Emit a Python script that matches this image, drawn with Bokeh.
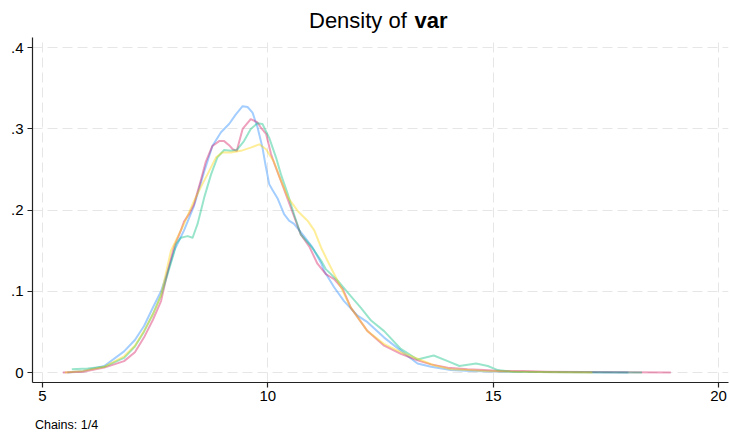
from bokeh.plotting import figure
from bokeh.layouts import column
from bokeh.models import Range1d, FixedTicker
from bokeh.core.properties import value
from bokeh.embed import file_html
from bokeh.resources import INLINE

# ---- data ----
x_ticks = [5, 10, 15, 20]
x_tick_labels = ["5", "10", "15", "20"]
y_ticks = [0, 0.1, 0.2, 0.3, 0.4]
y_tick_labels = ["0", ".1", ".2", ".3", ".4"]

chain1_x = [5.55, 5.9, 6.37, 6.81, 7.05, 7.25, 7.45, 7.63, 7.78, 7.92, 8.14, 8.36, 8.59, 8.77,
            8.96, 9.14, 9.29, 9.44, 9.55, 9.66, 9.77, 9.88, 9.95, 10.03, 10.10, 10.22, 10.36,
            10.47, 10.58, 10.77, 10.99, 11.18, 11.25, 11.47, 11.69, 11.99, 12.21, 12.58, 12.95,
            13.32, 13.62, 14.06, 14.5, 15.2, 16.0, 17.0, 18.0]
chain1_y = [0.000, 0.002, 0.008, 0.026, 0.040, 0.057, 0.080, 0.100, 0.125, 0.150, 0.175, 0.205,
            0.248, 0.279, 0.296, 0.306, 0.318, 0.328, 0.327, 0.320, 0.302, 0.277, 0.255, 0.232,
            0.225, 0.214, 0.195, 0.187, 0.183, 0.170, 0.154, 0.135, 0.125, 0.105, 0.088, 0.070,
            0.062, 0.043, 0.027, 0.011, 0.007, 0.003, 0.002, 0.001, 0.0005, 0.0002, 0.0]

chain2_x = [5.45, 5.9, 6.37, 6.81, 7.05, 7.25, 7.45, 7.63, 7.78, 7.92, 8.07, 8.14, 8.25, 8.36,
            8.51, 8.62, 8.77, 8.92, 9.03, 9.14, 9.22, 9.31, 9.44, 9.62, 9.77, 9.84, 9.96, 10.07,
            10.14, 10.29, 10.51, 10.73, 10.92, 11.10, 11.29, 11.47, 11.66, 11.84, 12.21, 12.58,
            12.95, 13.32, 13.62, 13.99, 14.43, 14.80, 15.17, 15.65, 16.2, 17.0, 18.0, 18.94]
chain2_y = [0.000, 0.001, 0.006, 0.014, 0.025, 0.043, 0.065, 0.088, 0.125, 0.155, 0.175, 0.186,
            0.195, 0.207, 0.236, 0.259, 0.279, 0.285, 0.285, 0.280, 0.275, 0.273, 0.300, 0.312,
            0.308, 0.302, 0.294, 0.269, 0.258, 0.236, 0.203, 0.170, 0.155, 0.134, 0.121, 0.115,
            0.103, 0.080, 0.051, 0.033, 0.023, 0.015, 0.010, 0.006, 0.004, 0.003, 0.002, 0.002,
            0.001, 0.0005, 0.0003, 0.0]

chain3_x = [5.65, 6.0, 6.37, 6.81, 7.05, 7.25, 7.45, 7.63, 7.78, 7.92, 7.96, 8.07, 8.22, 8.33,
            8.44, 8.59, 8.74, 8.88, 9.03, 9.18, 9.31, 9.47, 9.62, 9.77, 9.88, 10.03, 10.18, 10.29,
            10.44, 10.58, 10.73, 10.92, 11.03, 11.18, 11.29, 11.55, 11.84, 12.06, 12.29, 12.58,
            12.95, 13.32, 13.68, 13.99, 14.25, 14.62, 14.88, 15.10, 15.39, 16.0, 17.0, 18.3]
chain3_y = [0.004, 0.005, 0.007, 0.018, 0.032, 0.050, 0.072, 0.095, 0.122, 0.148, 0.158, 0.166,
            0.168, 0.166, 0.183, 0.216, 0.244, 0.265, 0.274, 0.273, 0.274, 0.285, 0.300, 0.307,
            0.306, 0.289, 0.265, 0.244, 0.220, 0.195, 0.170, 0.158, 0.150, 0.138, 0.127, 0.113,
            0.094, 0.080, 0.064, 0.051, 0.029, 0.016, 0.021, 0.014, 0.008, 0.011, 0.008, 0.003,
            0.001, 0.0005, 0.0002, 0.0]

chain4_x = [5.5, 5.9, 6.37, 6.81, 7.05, 7.25, 7.45, 7.63, 7.75, 7.85, 8.14, 8.36, 8.51, 8.66,
            8.85, 8.99, 9.18, 9.40, 9.62, 9.81, 9.96, 10.14, 10.25, 10.44, 10.66, 10.88, 11.03,
            11.18, 11.32, 11.40, 11.62, 11.84, 12.21, 12.58, 12.95, 13.32, 13.68, 14.06, 14.43,
            14.80, 15.5, 16.5, 17.2]
chain4_y = [0.000, 0.002, 0.007, 0.020, 0.033, 0.051, 0.072, 0.095, 0.125, 0.150, 0.183, 0.211,
            0.228, 0.244, 0.265, 0.271, 0.271, 0.273, 0.277, 0.281, 0.275, 0.259, 0.242, 0.216,
            0.199, 0.187, 0.175, 0.154, 0.138, 0.129, 0.105, 0.080, 0.051, 0.035, 0.025, 0.017,
            0.009, 0.004, 0.003, 0.002, 0.001, 0.0003, 0.0]

chain_colors = ["#1a85ff", "#d41159", "#00bf7f", "#ffd400"]

title_text = "Density of "
title_bold = "var"
note_text = "Chains: 1/4"

FONT = "Liberation Sans"
W = 730
BL, BR = 32, 2  # left / right borders shared by all three strips

# ---- title strip (x in page pixels, y in pixels from strip bottom) ----
t = figure(width=W, height=36, output_backend="svg", toolbar_location=None, title=None,
           x_range=Range1d(BL, W - BR), y_range=Range1d(0, 36), x_axis_type=None, y_axis_type=None,
           min_border_left=BL, min_border_right=BR, min_border_top=0, min_border_bottom=0)
t.outline_line_color = None
t.grid.visible = False
t.text(x=[308.5], y=[16.0], text=[title_text], text_font=value(FONT), text_font_size="22px",
       text_color="black", text_align="left", text_baseline="alphabetic")
t.text(x=[414.0], y=[16.0], text=[title_bold], text_font=value(FONT), text_font_size="22px",
       text_font_style="bold", text_color="black", text_align="left", text_baseline="alphabetic")

# ---- main plot ----
p = figure(width=W, height=376, output_backend="svg", toolbar_location=None, title=None,
           x_range=Range1d(4.778, 20.22), y_range=Range1d(-0.0123, 0.4126),
           min_border_left=BL, min_border_right=BR, min_border_top=1, min_border_bottom=30)
p.outline_line_color = None
p.background_fill_color = "white"
p.border_fill_color = "white"

for ax in (p.xaxis, p.yaxis):
    ax.axis_line_color = "#222222"
    ax.axis_line_width = 1.2
    ax.major_tick_line_color = "#222222"
    ax.major_tick_line_width = 1.2
    ax.major_tick_out = 5
    ax.major_tick_in = 0
    ax.minor_tick_line_color = None
    ax.major_label_text_font = FONT
    ax.major_label_text_font_size = "15px"
    ax.major_label_text_color = "black"

p.xaxis.ticker = FixedTicker(ticks=x_ticks)
p.yaxis.ticker = FixedTicker(ticks=y_ticks)
p.xaxis.major_label_overrides = {t_: l for t_, l in zip(x_ticks, x_tick_labels)}
p.yaxis.major_label_overrides = {t_: l for t_, l in zip(y_ticks, y_tick_labels)}
p.xaxis.major_label_standoff = 3
p.yaxis.major_label_standoff = 4

for g in (p.xgrid, p.ygrid):
    g.grid_line_color = "#e6e6e6"
    g.grid_line_width = 1
    g.grid_line_dash = "10 5"
p.xgrid.ticker = FixedTicker(ticks=x_ticks)
p.ygrid.ticker = FixedTicker(ticks=y_ticks)

series = [(chain1_x, chain1_y), (chain2_x, chain2_y), (chain3_x, chain3_y), (chain4_x, chain4_y)]
for (xs, ys), c in zip(series, chain_colors):
    p.line(xs, ys, line_color=c, line_alpha=0.4, line_width=2, line_join="round")

# ---- note strip ----
n = figure(width=W, height=20, output_backend="svg", toolbar_location=None, title=None,
           x_range=Range1d(BL, W - BR), y_range=Range1d(0, 20), x_axis_type=None, y_axis_type=None,
           min_border_left=BL, min_border_right=BR, min_border_top=0, min_border_bottom=0)
n.outline_line_color = None
n.grid.visible = False
n.text(x=[34.4], y=[8.0], text=[note_text], text_font=value(FONT), text_font_size="12.5px",
       text_color="black", text_align="left", text_baseline="alphabetic")

layout = column(t, p, n, spacing=0)
open("out.html", "w").write(file_html(layout, INLINE))
